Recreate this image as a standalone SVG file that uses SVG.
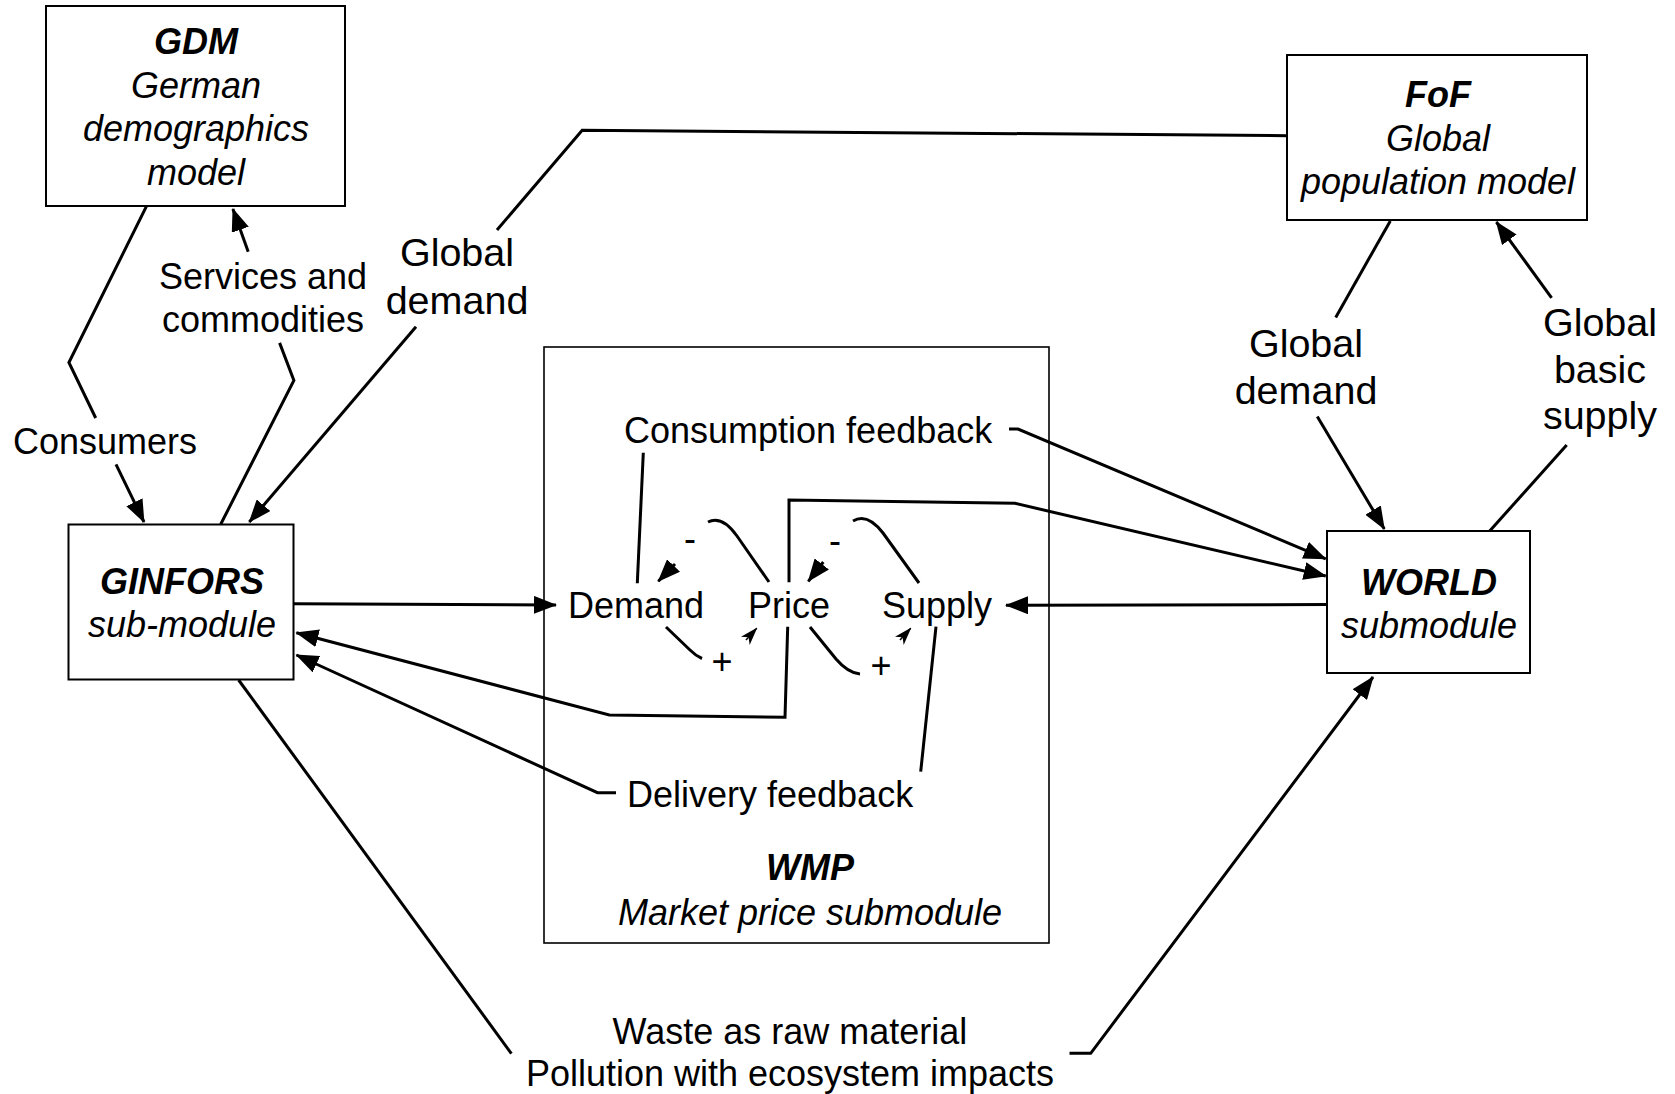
<svg xmlns="http://www.w3.org/2000/svg" width="1675" height="1094" viewBox="0 0 1675 1094">
  <style>
    text { font-family: "Liberation Sans", Arial, Helvetica, sans-serif; font-size: 36px; fill: #000; }
    .c { text-anchor: middle; }
    .bi { font-weight: bold; font-style: italic; }
    .i { font-style: italic; }
    .big { font-size: 39.5px; }
    .box { fill: #fff; stroke: #000; stroke-width: 2; }
    .wire { fill: none; stroke: #000; stroke-width: 3; stroke-linejoin: miter; }
    .arr { marker-end: url(#head); }
    .arrs { marker-end: url(#small); }
  </style>
  <defs>
    <marker id="head" markerUnits="userSpaceOnUse" viewBox="0 0 23 18" markerWidth="23" markerHeight="18" refX="22" refY="9" orient="auto">
      <path d="M0,0 L23,9 L0,18 Z" fill="#000"/>
    </marker>
    <marker id="small" markerUnits="userSpaceOnUse" viewBox="0 0 18 12" markerWidth="18" markerHeight="12" refX="17" refY="6" orient="auto">
      <path d="M0,0 L18,6 L0,12 L5,6 Z" fill="#000"/>
    </marker>
  </defs>
  <rect width="1675" height="1094" fill="#fff"/>

  <!-- nodes -->
  <g id="wmp">
    <rect class="box" x="544" y="347" width="505" height="596" style="stroke-width:1.6"/>
    <text class="c bi" x="810" y="880">WMP</text>
    <text class="c i" x="810" y="925">Market price submodule</text>
  </g>
  <g id="gdm">
    <rect class="box" x="46" y="6" width="299" height="200"/>
    <text class="c bi" x="196" y="54">GDM</text>
    <text class="c i" x="196" y="98">German</text>
    <text class="c i" x="196" y="141">demographics</text>
    <text class="c i" x="196" y="185">model</text>
  </g>
  <g id="fof">
    <rect class="box" x="1287" y="55" width="300" height="165"/>
    <text class="c bi" x="1438" y="107">FoF</text>
    <text class="c i" x="1438" y="151">Global</text>
    <text class="c i" x="1438" y="194">population model</text>
  </g>
  <g id="ginfors">
    <rect class="box" x="68.5" y="524.5" width="225" height="155"/>
    <text class="c bi" x="182" y="594">GINFORS</text>
    <text class="c i" x="182" y="637">sub-module</text>
  </g>
  <g id="world">
    <rect class="box" x="1327" y="531" width="203" height="142"/>
    <text class="c bi" x="1429" y="595">WORLD</text>
    <text class="c i" x="1429" y="638">submodule</text>
  </g>
  <g id="demand"><text x="568" y="618">Demand</text></g>
  <g id="price"><text x="748" y="618">Price</text></g>
  <g id="supply"><text x="882" y="618">Supply</text></g>

  <!-- connectors -->
  <g id="connectors">
    <!-- GDM to GINFORS: consumers -->
    <polyline class="wire" points="146.4,206.4 68.9,362.5 95.7,418"/>
    <line class="wire arr" x1="116" y1="464.3" x2="144" y2="522"/>
    <!-- GINFORS to GDM: services and commodities -->
    <polyline class="wire" points="220.7,524.3 293.9,380.4 279.6,342.9"/>
    <line class="wire arr" x1="248.2" y1="251.8" x2="232.9" y2="209"/>
    <!-- FoF to GINFORS: global demand -->
    <polyline class="wire" points="1287.2,135.7 582.2,130.3 497,230"/>
    <line class="wire arr" x1="416" y1="326.8" x2="249.3" y2="522"/>
    <!-- FoF to WORLD: global demand -->
    <line class="wire" x1="1390.3" y1="220.9" x2="1335.7" y2="317.4"/>
    <line class="wire arr" x1="1317.3" y1="416.4" x2="1384.3" y2="529"/>
    <!-- WORLD to FoF: global basic supply -->
    <line class="wire" x1="1489.7" y1="531" x2="1566.7" y2="445"/>
    <line class="wire arr" x1="1551.6" y1="297.8" x2="1496.4" y2="222"/>
    <!-- GINFORS to Demand -->
    <line class="wire arr" x1="294" y1="603.7" x2="556" y2="605"/>
    <!-- WORLD to Supply -->
    <line class="wire arr" x1="1326.7" y1="604.6" x2="1006" y2="605.3"/>
    <!-- Demand, consumption feedback, WORLD -->
    <line class="wire" x1="637.3" y1="583.3" x2="643.3" y2="452.7"/>
    <polyline class="wire arr" points="1009,429 1018,429 1325.7,558.8"/>
    <!-- Price to WORLD -->
    <polyline class="wire arr" points="789,582.3 789,500 1015,503.3 1325.7,576"/>
    <!-- Price to GINFORS -->
    <polyline class="wire arr" points="787.7,626.7 785,717.3 609.3,715 296.4,632.7"/>
    <!-- Supply, delivery feedback, GINFORS -->
    <line class="wire" x1="936" y1="626.7" x2="920.7" y2="771.7"/>
    <polyline class="wire arr" points="616,792.7 597.5,792.7 296.4,655"/>
    <!-- GINFORS, waste and pollution, WORLD -->
    <line class="wire" x1="238.6" y1="680" x2="511.4" y2="1053.6"/>
    <polyline class="wire arr" points="1069.5,1053.3 1090.7,1053.3 1373,677"/>
    <!-- price loops -->
    <path class="wire" d="M708,522 C718,517 727,522 737,536 L769,582"/>
    <path class="wire arr" d="M675,564 L658.3,581.3"/>
    <path class="wire" d="M853,521 C863,515 873,520 883,533 L919,583"/>
    <path class="wire arr" d="M823.3,562 L808.3,581.3"/>
    <path class="wire" d="M666,627 L690,650 Q696,656 702,658.5"/>
    <path class="wire arrs" style="stroke-width:1.5" d="M746,640 L756.7,628.3"/>
    <path class="wire" d="M810,627 L836,659 Q848,673 860,674"/>
    <path class="wire arrs" style="stroke-width:1.5" d="M900,640 L910.7,628.3"/>
  </g>

  <!-- connector labels -->
  <g id="labels">
    <text class="c" x="105" y="454">Consumers</text>
    <text class="c" x="263" y="288.5">Services and</text>
    <text class="c" x="263" y="331.5">commodities</text>
    <text class="c big" x="457" y="266">Global</text>
    <text class="c big" x="457" y="314">demand</text>
    <text class="c big" x="1306" y="357">Global</text>
    <text class="c big" x="1306" y="404">demand</text>
    <text class="c big" x="1600" y="335.5">Global</text>
    <text class="c big" x="1600" y="382.5">basic</text>
    <text class="c big" x="1600" y="429">supply</text>
    <text x="624" y="443">Consumption feedback</text>
    <text x="627" y="807">Delivery feedback</text>
    <text class="c" x="690" y="551">-</text>
    <text class="c" x="835" y="552.5">-</text>
    <text class="c" x="722" y="673.5">+</text>
    <text class="c" x="881" y="677.5">+</text>
    <text class="c" x="790" y="1043.5">Waste as raw material</text>
    <text class="c" x="790" y="1086">Pollution with ecosystem impacts</text>
  </g>
</svg>
